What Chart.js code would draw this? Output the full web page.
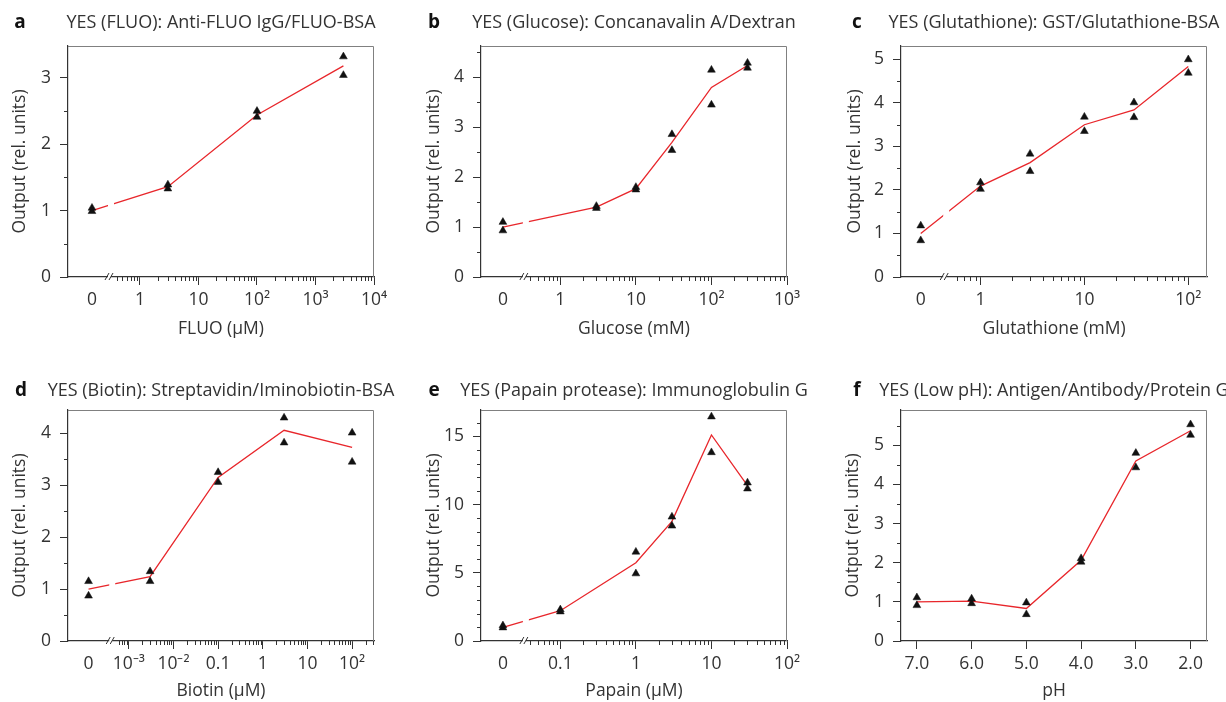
<!DOCTYPE html>
<html>
<head>
<meta charset="utf-8">
<script src="https://cdn.jsdelivr.net/npm/chart.js@4"></script>
<style>
  body { margin: 0; background: #fff; }
  canvas { position: absolute; }
</style>
</head>
<body>
<canvas id="chart_a" width="410" height="350" style="left:0;top:0"></canvas>
<canvas id="chart_b" width="410" height="350" style="left:410px;top:0"></canvas>
<canvas id="chart_c" width="406" height="350" style="left:820px;top:0"></canvas>
<canvas id="chart_d" width="410" height="352" style="left:0;top:350px"></canvas>
<canvas id="chart_e" width="410" height="352" style="left:410px;top:350px"></canvas>
<canvas id="chart_f" width="406" height="352" style="left:820px;top:350px"></canvas>
<script>
// a: FLUO
const fluoConc = [0, 3, 100, 3000];
const fluoRepA = [1.04, 1.39, 2.50, 3.32];
const fluoRepB = [0.99, 1.33, 2.41, 3.04];
const fluoMean = [1.00, 1.36, 2.44, 3.18];
const fluoTicks = [0, 1, 10, 100, 1000, 10000];
const fluoTickLabels = ['0', '1', '10', '10²', '10³', '10⁴'];

// b: Glucose
const glucoseConc = [0, 3, 10, 30, 100, 300];
const glucoseRepA = [1.10, 1.42, 1.80, 2.86, 4.15, 4.29];
const glucoseRepB = [0.93, 1.38, 1.75, 2.54, 3.45, 4.19];
const glucoseMean = [1.00, 1.40, 1.77, 2.70, 3.80, 4.24];
const glucoseTicks = [0, 1, 10, 100, 1000];
const glucoseTickLabels = ['0', '1', '10', '10²', '10³'];

// c: Glutathione
const glutConc = [0, 1, 3, 10, 30, 100];
const glutRepA = [1.18, 2.17, 2.83, 3.68, 4.01, 5.00];
const glutRepB = [0.84, 2.02, 2.43, 3.35, 3.67, 4.69];
const glutMean = [1.00, 2.09, 2.63, 3.50, 3.84, 4.84];
const glutTicks = [0, 1, 10, 100];
const glutTickLabels = ['0', '1', '10', '10²'];

// d: Biotin
const biotinConc = [0, 0.003, 0.1, 3, 100];
const biotinRepA = [1.15, 1.34, 3.25, 4.30, 4.01];
const biotinRepB = [0.87, 1.15, 3.06, 3.82, 3.45];
const biotinMean = [1.00, 1.24, 3.15, 4.06, 3.73];
const biotinTicks = [0, 0.001, 0.01, 0.1, 1, 10, 100];
const biotinTickLabels = ['0', '10⁻³', '10⁻²', '0.1', '1', '10', '10²'];

// e: Papain
const papainConc = [0, 0.1, 1, 3, 10, 30];
const papainRepA = [1.13, 2.30, 6.53, 9.10, 16.44, 11.60];
const papainRepB = [0.98, 2.15, 4.94, 8.44, 13.82, 11.16];
const papainMean = [1.00, 2.22, 5.74, 8.77, 15.10, 11.38];
const papainTicks = [0, 0.1, 1, 10, 100];
const papainTickLabels = ['0', '0.1', '1', '10', '10²'];

// f: pH
const phValues = [7, 6, 5, 4, 3, 2];
const phRepA = [1.11, 1.08, 0.98, 2.11, 4.80, 5.53];
const phRepB = [0.91, 0.96, 0.68, 2.02, 4.43, 5.26];
const phMean = [1.00, 1.02, 0.83, 2.06, 4.60, 5.37];
const phTickLabels = ['7.0', '6.0', '5.0', '4.0', '3.0', '2.0'];

Chart.defaults.font.family = '"Open Sans", sans-serif';
Chart.defaults.color = '#333';

const INK = '#333';
const RED = '#e8262b';
const FONT_SIZE = 17.5;

// position on the log axis; 0 sits left of the axis break
const logPos = (c, zeroPos) => c === 0 ? zeroPos : Math.log10(c);

const panelDecor = {
    id: 'panelDecor',
    afterDatasetsDraw(chart, args, o) {
        if (o.breakAt === undefined) return;
        const { ctx, chartArea } = chart;
        const bx = chart.scales.x.getPixelForValue(o.breakAt);
        ctx.save();
        ctx.fillStyle = '#fff';
        ctx.fillRect(bx - 3, chartArea.top + 1, 6, chartArea.bottom - chartArea.top - 2);
        ctx.restore();
    },
    afterDraw(chart, args, o) {
        const { ctx, chartArea: a, scales: { x, y } } = chart;
        ctx.save();
        // top + right frame
        ctx.strokeStyle = '#808080';
        ctx.lineWidth = 1;
        ctx.beginPath();
        ctx.moveTo(a.left, a.top + 0.5);
        ctx.lineTo(a.right - 0.5, a.top + 0.5);
        ctx.lineTo(a.right - 0.5, a.bottom);
        ctx.stroke();

        // minor ticks
        ctx.strokeStyle = INK;
        ctx.beginPath();
        for (let i = 1; i * o.minorY < y.max; i++) {
            const v = i * o.minorY;
            if (Math.abs(v / o.majorY - Math.round(v / o.majorY)) < 1e-6) continue;
            const py = Math.round(y.getPixelForValue(v)) + 0.5;
            ctx.moveTo(a.left - 4, py);
            ctx.lineTo(a.left, py);
        }
        if (o.breakAt !== undefined) {
            const bx = x.getPixelForValue(o.breakAt);
            for (let d = Math.floor(x.min); d < x.max; d++) {
                for (let k = 2; k < 10; k++) {
                    const px = x.getPixelForValue(d + Math.log10(k));
                    if (px < bx + 4 || px > a.right) continue;
                    ctx.moveTo(Math.round(px) + 0.5, a.bottom);
                    ctx.lineTo(Math.round(px) + 0.5, a.bottom + 4);
                }
            }
            ctx.stroke();
            // axis break marks
            ctx.fillStyle = '#fff';
            ctx.fillRect(bx - 3, a.bottom - 2, 3, 4);
            ctx.beginPath();
            ctx.moveTo(bx - 6, a.bottom + 3);
            ctx.lineTo(bx - 2, a.bottom - 4);
            ctx.moveTo(bx - 2, a.bottom + 3);
            ctx.lineTo(bx + 2, a.bottom - 4);
        }
        ctx.stroke();

        // panel letter and title
        ctx.textBaseline = 'middle';
        ctx.textAlign = 'center';
        ctx.fillStyle = INK;
        ctx.font = '18px "Open Sans"';
        ctx.fillText(o.title, (a.left + a.right) / 2, o.titleY);
        ctx.fillStyle = '#111';
        ctx.font = 'bold 19px "Open Sans"';
        ctx.fillText(o.letter, o.letterX, o.titleY);
        ctx.restore();
    }
};

const make_panel = (id, p) => {
    const canvas = document.getElementById(id);
    const log = p.zeroPos !== undefined;
    const xs = log ? p.conc.map((c) => logPos(c, p.zeroPos)) : p.conc;
    const tickPos = log ? p.ticks.map((t) => logPos(t, p.zeroPos)) : p.ticks;
    const pts = (vals) => xs.map((x, i) => ({ x: x, y: vals[i] }));
    const marker = {
        showLine: false,
        pointStyle: 'triangle',
        pointRadius: 4.5,
        pointBackgroundColor: '#111',
        pointBorderColor: '#111',
        pointBorderWidth: 0.5
    };
    const config = {
        type: 'scatter',
        data: {
            datasets: [
                Object.assign({ label: 'rep 1', data: pts(p.repA) }, marker),
                Object.assign({ label: 'rep 2', data: pts(p.repB) }, marker),
                {
                    label: 'mean',
                    data: pts(p.mean),
                    showLine: true,
                    borderColor: RED,
                    borderWidth: 1.3,
                    pointRadius: 0
                }
            ]
        },
        options: {
            responsive: false,
            animation: false,
            layout: {
                padding: { left: 0, bottom: 0, top: p.area.top, right: canvas.width - p.area.right }
            },
            scales: {
                x: {
                    type: 'linear',
                    min: p.xMin,
                    max: p.xMax,
                    reverse: !!p.reverse,
                    afterBuildTicks: (scale) => { scale.ticks = tickPos.map((v) => ({ value: v })); },
                    afterFit: (scale) => { scale.height = canvas.height - p.area.bottom; },
                    ticks: {
                        autoSkip: false,
                        maxRotation: 0,
                        padding: 5,
                        font: { size: FONT_SIZE },
                        callback: (v, i) => p.tickLabels[i]
                    },
                    grid: {
                        drawOnChartArea: false,
                        tickLength: 8,
                        tickColor: (ctx) => (log && ctx.tick && ctx.tick.value === p.zeroPos) ? 'rgba(0,0,0,0)' : INK
                    },
                    border: { color: INK, width: 1.2 },
                    title: {
                        display: true,
                        text: p.xTitle,
                        font: { size: FONT_SIZE, lineHeight: 1.2 },
                        padding: { top: 0, bottom: p.xTitlePad }
                    }
                },
                y: {
                    min: 0,
                    max: p.yMax,
                    afterFit: (scale) => { scale.width = p.area.left; },
                    ticks: {
                        stepSize: p.majorY,
                        includeBounds: false,
                        padding: 9,
                        font: { size: FONT_SIZE }
                    },
                    grid: { drawOnChartArea: false, tickLength: 8, tickColor: INK },
                    border: { color: INK, width: 1.2 },
                    title: {
                        display: true,
                        text: 'Output (rel. units)',
                        font: { size: FONT_SIZE, lineHeight: 1.2 },
                        padding: { top: p.yTitlePad, bottom: 0 }
                    }
                }
            },
            plugins: {
                legend: { display: false },
                tooltip: { enabled: false },
                panelDecor: {
                    letter: p.letter,
                    letterX: p.letterX,
                    title: p.title,
                    titleY: p.titleY,
                    breakAt: p.breakAt,
                    majorY: p.majorY,
                    minorY: p.minorY
                }
            }
        },
        plugins: [panelDecor]
    };
    return new Chart(canvas, config);
};

make_panel('chart_a', {
    letter: 'a', letterX: 20, titleY: 23,
    title: 'YES (FLUO): Anti-FLUO IgG/FLUO-BSA',
    conc: fluoConc, repA: fluoRepA, repB: fluoRepB, mean: fluoMean,
    ticks: fluoTicks, tickLabels: fluoTickLabels,
    xMin: -1.23, xMax: 4.0, zeroPos: -0.82, breakAt: -0.495,
    yMax: 3.48, majorY: 1, minorY: 0.5,
    xTitle: 'FLUO (µM)', xTitlePad: 10, yTitlePad: 10,
    area: { left: 68, top: 46, right: 374, bottom: 277 }
});

make_panel('chart_b', {
    letter: 'b', letterX: 24, titleY: 23,
    title: 'YES (Glucose): Concanavalin A/Dextran',
    conc: glucoseConc, repA: glucoseRepA, repB: glucoseRepB, mean: glucoseMean,
    ticks: glucoseTicks, tickLabels: glucoseTickLabels,
    xMin: -1.05, xMax: 3.0, zeroPos: -0.76, breakAt: -0.456,
    yMax: 4.63, majorY: 1, minorY: 0.5,
    xTitle: 'Glucose (mM)', xTitlePad: 10, yTitlePad: 14,
    area: { left: 71, top: 46, right: 377, bottom: 277 }
});

make_panel('chart_c', {
    letter: 'c', letterX: 37, titleY: 23,
    title: 'YES (Glutathione): GST/Glutathione-BSA',
    conc: glutConc, repA: glutRepA, repB: glutRepB, mean: glutMean,
    ticks: glutTicks, tickLabels: glutTickLabels,
    xMin: -0.765, xMax: 2.18, zeroPos: -0.575, breakAt: -0.33,
    yMax: 5.31, majorY: 1, minorY: 0.5,
    xTitle: 'Glutathione (mM)', xTitlePad: 10, yTitlePad: 25,
    area: { left: 81, top: 46, right: 387, bottom: 277 }
});

make_panel('chart_d', {
    letter: 'd', letterX: 21, titleY: 41,
    title: 'YES (Biotin): Streptavidin/Iminobiotin-BSA',
    conc: biotinConc, repA: biotinRepA, repB: biotinRepB, mean: biotinMean,
    ticks: biotinTicks, tickLabels: biotinTickLabels,
    xMin: -4.36, xMax: 2.49, zeroPos: -3.9, breakAt: -3.37,
    yMax: 4.45, majorY: 1, minorY: 0.5,
    xTitle: 'Biotin (µM)', xTitlePad: 0, yTitlePad: 10,
    area: { left: 68, top: 60, right: 374, bottom: 291 }
});

make_panel('chart_e', {
    letter: 'e', letterX: 24, titleY: 41,
    title: 'YES (Papain protease): Immunoglobulin G',
    conc: papainConc, repA: papainRepA, repB: papainRepB, mean: papainMean,
    ticks: papainTicks, tickLabels: papainTickLabels,
    xMin: -2.05, xMax: 2.0, zeroPos: -1.76, breakAt: -1.456,
    yMax: 16.93, majorY: 5, minorY: 1,
    xTitle: 'Papain (µM)', xTitlePad: 0, yTitlePad: 14,
    area: { left: 71, top: 60, right: 377, bottom: 291 }
});

make_panel('chart_f', {
    letter: 'f', letterX: 37, titleY: 41,
    title: 'YES (Low pH): Antigen/Antibody/Protein G',
    conc: phValues, repA: phRepA, repB: phRepB, mean: phMean,
    ticks: phValues, tickLabels: phTickLabels,
    xMin: 1.7, xMax: 7.29, reverse: true,
    yMax: 5.9, majorY: 1, minorY: 0.5,
    xTitle: 'pH', xTitlePad: 0, yTitlePad: 23,
    area: { left: 81, top: 60, right: 387, bottom: 291 }
});
</script>
</body>
</html>
